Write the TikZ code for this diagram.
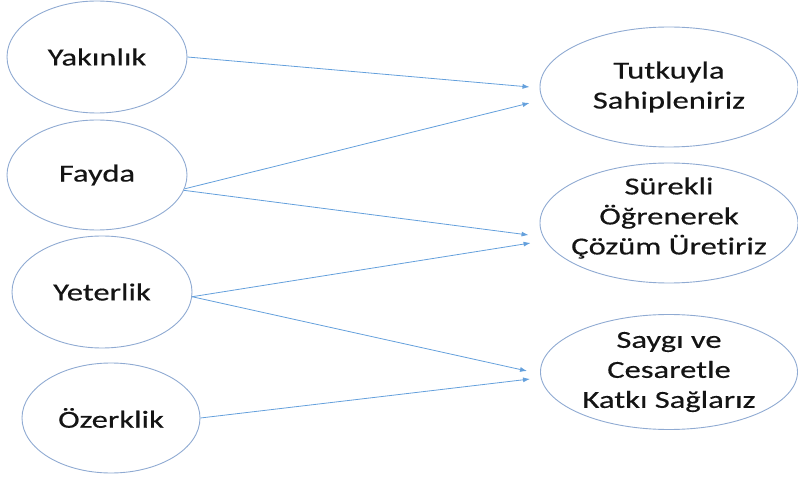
\documentclass[tikz,border=0pt]{standalone}
\usepackage{fontspec}
\setmainfont[FakeStretch=1.33,FakeBold=0.4,Ligatures=NoCommon]{Carlito}
\usetikzlibrary{calc,arrows.meta,shapes.geometric}
\definecolor{ovalline}{RGB}{143,170,210}
\definecolor{arrowline}{RGB}{100,160,220}
\definecolor{txtcol}{RGB}{20,20,20}
\tikzset{
  oval/.style={ellipse, draw=ovalline, line width=0.9pt, inner sep=0pt},
  txt/.style={align=center, text=txtcol, font=\fontsize{24.5}{30}\selectfont, inner sep=0pt},
  conn/.style={draw=arrowline, line width=0.8pt, -{Latex[length=7pt,width=5pt]}}
}
\begin{document}
\begin{tikzpicture}[x=1pt,y=-1pt]
\useasboundingbox (0,0) rectangle (798,478);
% left ovals
\node[oval, minimum width=180pt, minimum height=112pt] (yak) at (97,57) {};
\node[oval, minimum width=180pt, minimum height=110pt] (fay) at (97,175) {};
\node[oval, minimum width=180pt, minimum height=112pt] (yet) at (102,292) {};
\node[oval, minimum width=178pt, minimum height=110pt] (oze) at (111,418) {};
\node[txt] at (yak) {Yakınlık};
\node[txt] at (fay) {Fayda};
\node[txt] at (yet) {Yeterlik};
\node[txt] at (oze) {Özerklik};
% right ovals
\node[oval, minimum width=258pt, minimum height=120pt] (tut) at (669,87) {};
\node[oval, minimum width=258pt, minimum height=120pt] (sur) at (669,223) {};
\node[oval, minimum width=257pt, minimum height=115pt] (say) at (669,372) {};
\node[txt] at (tut) {Tutkuyla\\Sahipleniriz};
\node[txt] at ($(sur)+(0,-5)$) {Sürekli\\Öğrenerek\\Çözüm Üretiriz};
\node[txt] at (say) {Saygı ve\\Cesaretle\\Katkı Sağlarız};
% arrow targets
\coordinate (t1) at ($(tut.west)+(-10,0)$);
\coordinate (t2) at ($(tut.west)+(-10,16)$);
\coordinate (s1) at ($(sur.west)+(-11,12)$);
\coordinate (s2) at ($(sur.west)+(-9,20)$);
\coordinate (k1) at ($(say.west)+(-13,-1)$);
\coordinate (k2) at ($(say.west)+(-10,7)$);
% connectors
\draw[conn] (yak.east) -- (t1);
\draw[conn] (fay.-9) -- (t2);
\draw[conn] (fay.-10) -- (s1);
\draw[conn] (yet.-3) -- (s2);
\draw[conn] (yet.-3) -- (k1);
\draw[conn] (oze.east) -- (k2);
\end{tikzpicture}
\end{document}
